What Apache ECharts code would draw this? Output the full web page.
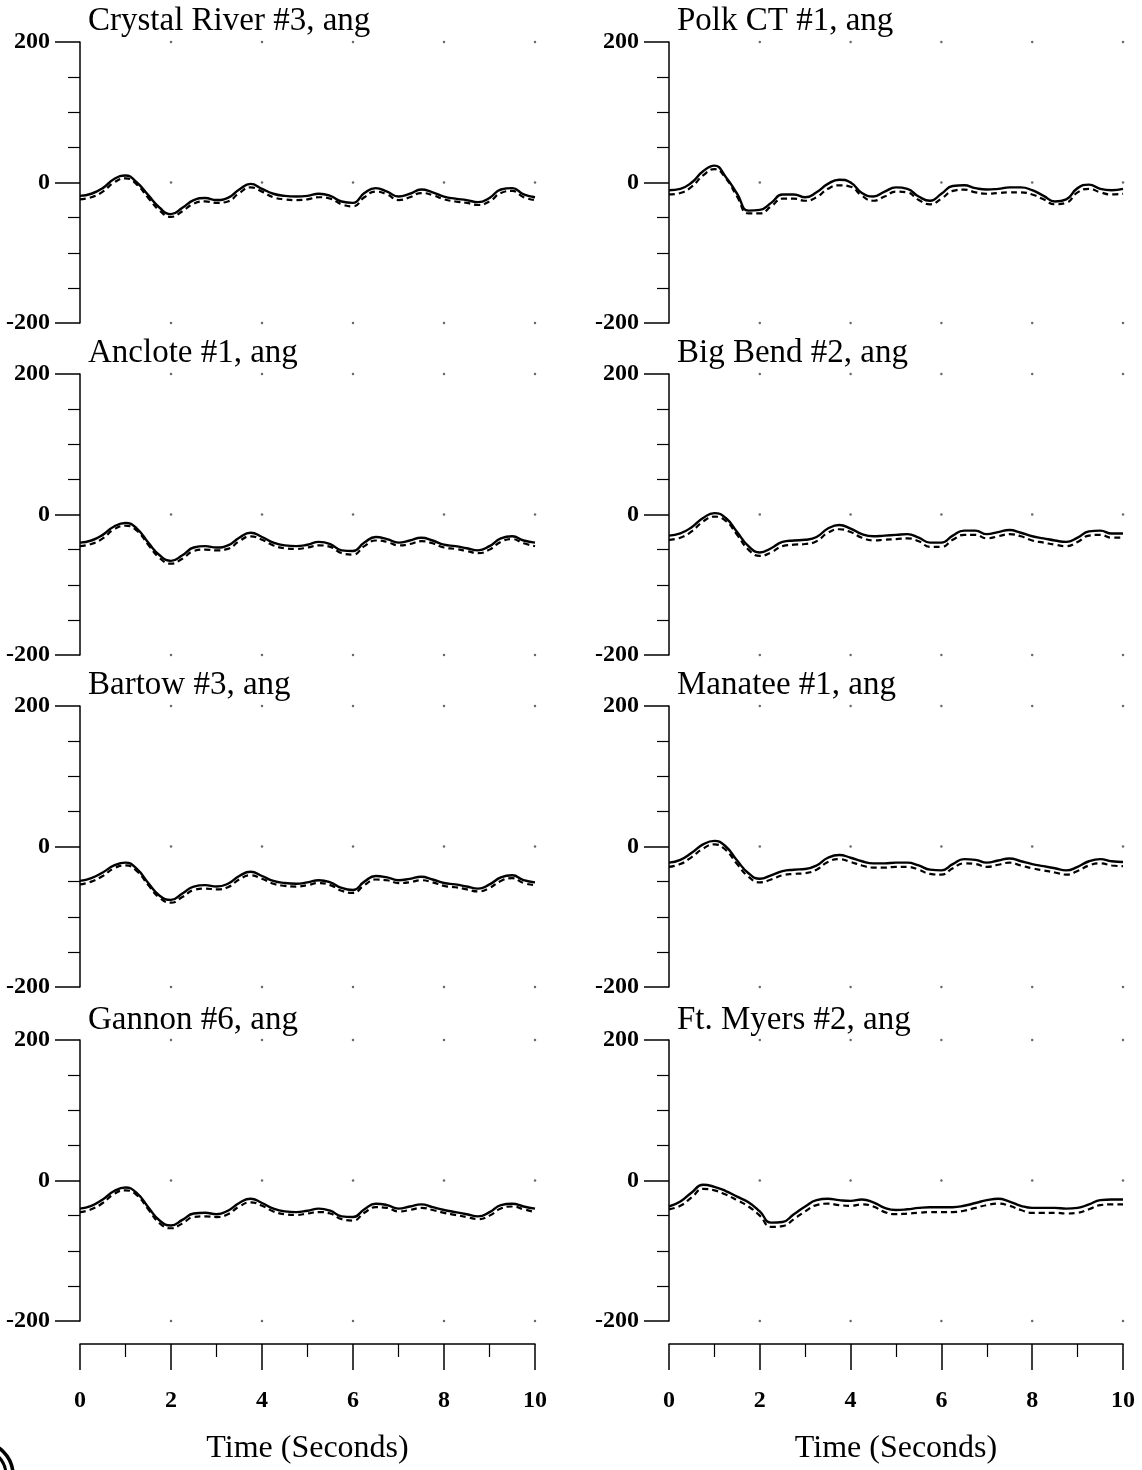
<!DOCTYPE html>
<html>
<head>
<meta charset="utf-8">
<script src="https://cdn.jsdelivr.net/npm/echarts@6/dist/echarts.min.js"></script>
<style>html,body{margin:0;padding:0;background:#fff}#c{width:1142px;height:1470px}</style>
</head>
<body>
<div id="c"></div>
<script>
// Time samples (seconds)
const time = [0,0.25,0.5,0.75,1,1.25,1.5,1.75,2,2.25,2.5,2.75,3,3.25,3.5,3.75,4,4.25,4.5,4.75,5,5.25,5.5,5.75,6,6.25,6.5,6.75,7,7.25,7.5,7.75,8,8.25,8.5,8.75,9,9.25,9.5,9.75,10];

const panelTitles = ["Crystal River #3, ang","Polk CT #1, ang","Anclote #1, ang","Big Bend #2, ang","Bartow #3, ang","Manatee #1, ang","Gannon #6, ang","Ft. Myers #2, ang"];

const crystalSolid = [-19,-16,-8,5,10,0,-18,-36,-45,-36,-25,-22,-25,-22,-10,-2,-9,-16,-19,-20,-19,-16,-19,-27,-29,-15,-8,-13,-20,-16,-10,-14,-20,-23,-25,-28,-22,-10,-8,-17,-21];
const crystalDashed = [-24,-21,-13,0,6,-3,-22,-40,-49,-41,-30,-27,-29,-27,-15,-7,-13,-21,-24,-25,-24,-21,-23,-31,-34,-21,-13,-17,-25,-21,-15,-18,-24,-27,-29,-32,-27,-15,-12,-21,-25];

const polkSolid = [-11,-9,0,16,24,8,-16,-40,-39,-29,-17,-17,-21,-14,-2,4,0,-15,-20,-13,-7,-9,-20,-26,-16,-5,-4,-8,-10,-9,-7,-7,-11,-19,-27,-24,-8,-3,-9,-11,-9];
const polkDashed = [-17,-15,-6,10,19,6,-20,-44,-44,-34,-23,-23,-26,-21,-9,-4,-6,-19,-26,-20,-13,-14,-25,-31,-23,-12,-10,-14,-16,-15,-14,-14,-17,-24,-31,-29,-14,-9,-14,-17,-16];

const ancloteSolid = [-40,-37,-29,-17,-12,-20,-40,-58,-66,-58,-47,-45,-47,-44,-33,-26,-32,-40,-44,-45,-43,-39,-42,-51,-52,-40,-32,-35,-40,-37,-33,-37,-43,-45,-48,-51,-45,-34,-31,-37,-40];
const ancloteDashed = [-45,-42,-34,-21,-16,-23,-43,-62,-70,-63,-52,-50,-51,-49,-38,-31,-36,-44,-48,-49,-47,-44,-46,-55,-57,-45,-37,-39,-44,-42,-38,-41,-47,-49,-52,-55,-50,-39,-35,-41,-45];

const bigBendSolid = [-30,-27,-18,-5,2,-5,-25,-45,-54,-48,-39,-37,-36,-32,-20,-15,-20,-28,-31,-30,-29,-28,-33,-40,-40,-30,-23,-23,-28,-25,-22,-26,-31,-34,-37,-39,-33,-24,-23,-27,-27];
const bigBendDashed = [-36,-33,-24,-10,-3,-9,-29,-50,-59,-54,-45,-43,-42,-38,-26,-21,-25,-33,-37,-36,-35,-34,-38,-46,-46,-36,-29,-29,-34,-31,-28,-31,-37,-40,-43,-45,-39,-30,-29,-33,-33];

const bartowSolid = [-49,-45,-37,-27,-23,-32,-52,-70,-76,-67,-57,-55,-57,-53,-42,-36,-42,-49,-52,-53,-51,-48,-51,-59,-62,-50,-42,-44,-48,-46,-43,-47,-52,-54,-57,-60,-54,-44,-41,-48,-51];
const bartowDashed = [-54,-50,-42,-31,-27,-35,-55,-73,-80,-72,-62,-60,-61,-58,-47,-41,-46,-53,-56,-57,-55,-52,-55,-63,-66,-55,-47,-48,-52,-51,-48,-51,-56,-58,-61,-64,-59,-49,-45,-52,-55];

const manateeSolid = [-23,-19,-9,3,8,0,-20,-38,-46,-41,-35,-33,-32,-27,-16,-12,-16,-21,-24,-24,-23,-23,-27,-33,-34,-25,-18,-19,-23,-20,-17,-21,-25,-28,-31,-34,-29,-21,-18,-21,-22];
const manateeDashed = [-29,-25,-15,-3,3,-5,-25,-43,-51,-47,-41,-39,-38,-33,-22,-18,-22,-27,-30,-30,-29,-29,-33,-39,-40,-31,-24,-25,-29,-26,-23,-27,-31,-34,-37,-40,-35,-27,-24,-27,-28];

const gannonSolid = [-40,-36,-27,-15,-10,-18,-38,-57,-64,-56,-47,-46,-48,-43,-32,-26,-32,-40,-44,-45,-43,-40,-43,-51,-52,-41,-33,-35,-40,-37,-34,-38,-42,-45,-48,-51,-45,-35,-33,-37,-40];
const gannonDashed = [-45,-41,-32,-19,-14,-21,-41,-61,-68,-61,-52,-51,-52,-48,-37,-31,-36,-44,-48,-49,-47,-45,-47,-55,-57,-46,-38,-39,-44,-42,-39,-42,-46,-49,-52,-55,-50,-40,-37,-41,-45];

const ftMyersSolid = [-37,-30,-17,-6,-9,-15,-23,-31,-44,-60,-59,-48,-37,-28,-26,-28,-29,-27,-31,-39,-42,-41,-39,-38,-38,-38,-36,-32,-28,-26,-30,-36,-39,-39,-39,-40,-39,-34,-28,-27,-27];
const ftMyersDashed = [-41,-36,-24,-12,-14,-20,-28,-37,-50,-66,-65,-55,-44,-35,-33,-35,-36,-34,-37,-45,-48,-47,-46,-45,-45,-45,-43,-39,-35,-33,-36,-42,-46,-46,-46,-47,-46,-41,-35,-34,-34];

// Grid-dot positions (tick values)
const dotTimes = [2,4,6,8,10];
const dotLevels = [200,0,-200];
const timeTickLabels = [0,2,4,6,8,10];

const solids = [crystalSolid,polkSolid,ancloteSolid,bigBendSolid,bartowSolid,manateeSolid,gannonSolid,ftMyersSolid];
const dashes = [crystalDashed,polkDashed,ancloteDashed,bigBendDashed,bartowDashed,manateeDashed,gannonDashed,ftMyersDashed];

const colLeft = [80, 669];
const colWidth = [455, 454];
const rowTop = [42, 374, 706, 1040];
const rowH = 281;
const titleTop = [0, 332, 664, 999];
const titleLeft = [83, 672];
const serif = '"Liberation Serif","Times New Roman",serif';

const grid = [], xAxis = [], yAxis = [], series = [], title = [];
const dots = [];
dotTimes.forEach(t => dotLevels.forEach(v => dots.push([t, v])));

for (let i = 0; i < 8; i++) {
  const r = Math.floor(i / 2), c = i % 2;
  grid.push({left: colLeft[c], width: colWidth[c], top: rowTop[r], height: rowH});
  xAxis.push({gridIndex: i, type: 'value', min: 0, max: 10, show: false});
  yAxis.push({
    gridIndex: i, type: 'value', min: -200, max: 200, interval: 200,
    axisLine: {show: true, lineStyle: {color: '#000', width: 1.5}},
    axisTick: {show: true, length: 25, lineStyle: {color: '#000', width: 1.5}},
    minorTick: {show: true, splitNumber: 4, length: 12, lineStyle: {color: '#000', width: 1.2}},
    splitLine: {show: false},
    axisLabel: {margin: 30, fontFamily: serif, fontWeight: 'bold', fontSize: 24, color: '#000'}
  });
  title.push({text: panelTitles[i], left: titleLeft[c], top: titleTop[r],
    textStyle: {fontFamily: serif, fontWeight: 'normal', fontSize: 33, color: '#000'}});
  const sData = time.map((t, k) => [t, solids[i][k]]);
  const dData = time.map((t, k) => [t, dashes[i][k]]);
  series.push({type: 'scatter', xAxisIndex: i, yAxisIndex: i, data: dots, symbolSize: 2.5,
    itemStyle: {color: '#444'}, silent: true, z: 1});
  series.push({type: 'line', xAxisIndex: i, yAxisIndex: i, data: dData, showSymbol: false, symbol: 'none',
    smooth: 0.5, lineStyle: {color: '#000', width: 2.2, type: [6, 4]}, z: 2});
  series.push({type: 'line', xAxisIndex: i, yAxisIndex: i, data: sData, showSymbol: false, symbol: 'none',
    smooth: 0.5, lineStyle: {color: '#000', width: 2.4}, z: 3});
}

// Bottom time axes
for (let c = 0; c < 2; c++) {
  const gi = grid.length;
  grid.push({left: colLeft[c], width: colWidth[c], top: 1342, height: 2});
  xAxis.push({
    gridIndex: gi, type: 'value', min: 0, max: 10, interval: 2, position: 'bottom',
    name: 'Time (Seconds)', nameLocation: 'middle', nameGap: 89,
    nameTextStyle: {fontFamily: serif, fontSize: 32, color: '#000'},
    axisLine: {show: true, lineStyle: {color: '#000', width: 1.5}},
    axisTick: {show: true, length: 26, lineStyle: {color: '#000', width: 1.5}},
    minorTick: {show: true, splitNumber: 2, length: 13, lineStyle: {color: '#000', width: 1.2}},
    splitLine: {show: false},
    axisLabel: {margin: 45, fontFamily: serif, fontWeight: 'bold', fontSize: 24, color: '#000',
      formatter: v => timeTickLabels.includes(v) ? String(v) : ''}
  });
  yAxis.push({gridIndex: gi, type: 'value', show: false});
}

const chart = echarts.init(document.getElementById('c'), null, {renderer: 'canvas'});
chart.setOption({
  animation: false,
  backgroundColor: '#fff',
  title, grid, xAxis, yAxis, series,
  graphic: [
    {type: 'circle', shape: {cx: -20, cy: 1475, r: 33}, style: {fill: 'none', stroke: '#000', lineWidth: 3.5}, silent: true},
    {type: 'circle', shape: {cx: -20, cy: 1475, r: 26}, style: {fill: 'none', stroke: '#000', lineWidth: 3}, silent: true}
  ]
});
</script>
</body>
</html>
